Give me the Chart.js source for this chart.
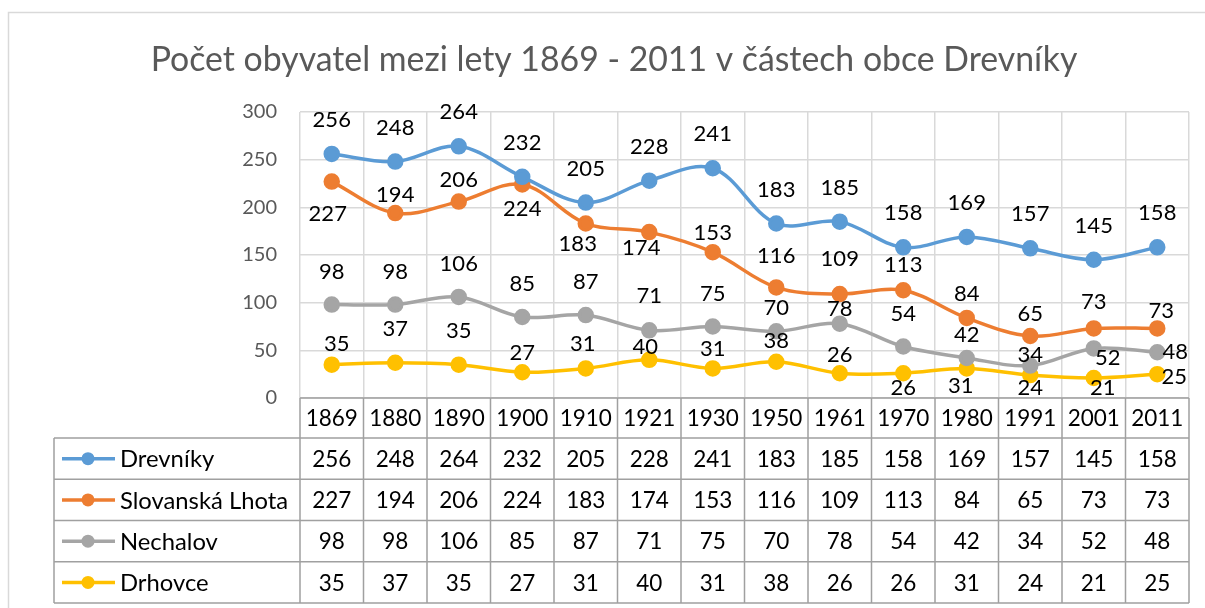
<!DOCTYPE html>
<html>
<head>
<meta charset="utf-8">
<script src="https://cdn.jsdelivr.net/npm/chart.js@4/dist/chart.umd.min.js"></script>
<style>
    html, body { margin: 0; padding: 0; background: #fff; }
</style>
</head>
<body>
<canvas id="populationChart" width="1205" height="608"></canvas>
<script>
// data
var years = ['1869', '1880', '1890', '1900', '1910', '1921', '1930', '1950', '1961', '1970', '1980', '1991', '2001', '2011'];
var seriesNames = ['Drevníky', 'Slovanská Lhota', 'Nechalov', 'Drhovce'];
var drevniky = [256, 248, 264, 232, 205, 228, 241, 183, 185, 158, 169, 157, 145, 158];
var slovanskaLhota = [227, 194, 206, 224, 183, 174, 153, 116, 109, 113, 84, 65, 73, 73];
var nechalov = [98, 98, 106, 85, 87, 71, 75, 70, 78, 54, 42, 34, 52, 48];
var drhovce = [35, 37, 35, 27, 31, 40, 31, 38, 26, 26, 31, 24, 21, 25];
var yTicks = [0, 50, 100, 150, 200, 250, 300];
var chartTitle = 'Počet obyvatel mezi lety 1869 - 2011 v částech obce Drevníky';

// label placement (pixel offsets from the point), style only
var drevnikyLbl = [[0,-34],[0,-34],[0,-34],[0,-34],[0,-34],[0,-34],[0,-34],[0,-34],[0,-34],[0,-34],[0,-34],[0,-34],[0,-34],[0,-34]];
var slovanskaLbl = [[-4,32],[0,-18],[0,-22],[0,24],[-8,20],[-8,16],[0,-19],[0,-32],[0,-35],[0,-25],[0,-24],[0,-22],[0,-27],[4,-18]];
var nechalovLbl = [[0,-33],[0,-33],[0,-33],[0,-33],[0,-33],[0,-34],[0,-33],[0,-23],[0,-15],[0,-33],[0,-23],[0,-11],[14,9],[18,0]];
var drhovceLbl = [[5,-21],[0,-34],[0,-34],[0,-19],[-3,-25],[-4,-13],[0,-20],[0,-21],[0,-18],[0,15],[-6,17],[0,13],[9,10],[17,3]];

var colors = ['#5B9BD5', '#ED7D31', '#A5A5A5', '#FFC000'];
var FONT = 'Lato, "Open Sans", sans-serif';

function makeSet(name, values, color, lbl) {
    return {
        label: name,
        data: values,
        borderColor: color,
        backgroundColor: color,
        pointBackgroundColor: color,
        pointBorderColor: color,
        borderWidth: 3.5,
        pointRadius: 6.5,
        pointHoverRadius: 6.5,
        tension: 0.35,
        labelOffsets: lbl
    };
}

// white background and outer chart frame + title
var framePlugin = {
    id: 'frame',
    beforeDraw: function(chart) {
        var ctx = chart.ctx;
        ctx.save();
        ctx.fillStyle = '#fff';
        ctx.fillRect(0, 0, chart.width, chart.height);
        ctx.strokeStyle = '#d9d9d9';
        ctx.lineWidth = 1.5;
        ctx.strokeRect(8.5, 12.5, chart.width + 10, chart.height + 10);
        ctx.fillStyle = '#595959';
        ctx.font = '33.8px ' + FONT;
        ctx.textAlign = 'center';
        ctx.textBaseline = 'middle';
        ctx.fillText(chartTitle, 614, 60);
        ctx.restore();
    }
};

// value labels next to the points
var valueLabels = {
    id: 'valueLabels',
    afterDatasetsDraw: function(chart) {
        var ctx = chart.ctx;
        ctx.save();
        ctx.font = '22px ' + FONT;
        ctx.fillStyle = '#000';
        ctx.textAlign = 'center';
        ctx.textBaseline = 'middle';
        chart.data.datasets.forEach(function(ds, di) {
            var meta = chart.getDatasetMeta(di);
            meta.data.forEach(function(pt, i) {
                var off = ds.labelOffsets[i];
                ctx.fillText(String(ds.data[i]), pt.x + off[0], pt.y + off[1]);
            });
        });
        ctx.restore();
    }
};

// data table under the plot
var dataTable = {
    id: 'dataTable',
    afterDraw: function(chart) {
        var ctx = chart.ctx;
        var xs = chart.scales.x;
        var area = chart.chartArea;
        var colW = (area.right - area.left) / years.length;
        var top = area.bottom;
        var headH = 40;
        var rowH = 41.25;
        var tableLeft = 54;
        var bottom = top + headH + rowH * seriesNames.length;

        ctx.save();
        ctx.strokeStyle = '#a0a0a0';
        ctx.lineWidth = 1.5;
        ctx.beginPath();
        // horizontal lines
        ctx.moveTo(area.left, top);
        ctx.lineTo(area.right, top);
        for (var r = 0; r <= seriesNames.length; r++) {
            var y = top + headH + rowH * r;
            ctx.moveTo(tableLeft, y);
            ctx.lineTo(area.right, y);
        }
        // vertical lines
        for (var c = 0; c <= years.length; c++) {
            var x = area.left + colW * c;
            ctx.moveTo(x, top);
            ctx.lineTo(x, bottom);
        }
        ctx.moveTo(tableLeft, top + headH);
        ctx.lineTo(tableLeft, bottom);
        ctx.stroke();

        ctx.font = '22.5px ' + FONT;
        ctx.fillStyle = '#000';
        ctx.textBaseline = 'middle';
        ctx.textAlign = 'center';
        years.forEach(function(yr, i) {
            ctx.fillText(yr, xs.getPixelForValue(i), top + headH / 2 + 1);
        });

        chart.data.datasets.forEach(function(ds, di) {
            var cy = top + headH + rowH * di + rowH / 2 + 1;
            // legend key
            ctx.strokeStyle = ds.borderColor;
            ctx.lineWidth = 3.5;
            ctx.beginPath();
            ctx.moveTo(62, cy - 1);
            ctx.lineTo(115, cy - 1);
            ctx.stroke();
            ctx.fillStyle = ds.borderColor;
            ctx.beginPath();
            ctx.arc(88, cy - 1, 6.5, 0, Math.PI * 2);
            ctx.fill();
            ctx.fillStyle = '#000';
            ctx.textAlign = 'left';
            ctx.font = '23.8px ' + FONT;
            ctx.fillText(ds.label, 120, cy);
            ctx.textAlign = 'center';
            ctx.font = '22.5px ' + FONT;
            ds.data.forEach(function(v, i) {
                ctx.fillText(String(v), xs.getPixelForValue(i), cy);
            });
        });
        ctx.restore();
    }
};

var ctxPopulation = document.getElementById('populationChart').getContext('2d');
var populationChart = new Chart(ctxPopulation, {
    type: 'line',
    data: {
        labels: years,
        datasets: [
            makeSet(seriesNames[0], drevniky, colors[0], drevnikyLbl),
            makeSet(seriesNames[1], slovanskaLhota, colors[1], slovanskaLbl),
            makeSet(seriesNames[2], nechalov, colors[2], nechalovLbl),
            makeSet(seriesNames[3], drhovce, colors[3], drhovceLbl)
        ]
    },
    options: {
        responsive: false,
        animation: false,
        layout: {
            padding: { top: 112, right: 16, bottom: 210, left: 0 }
        },
        plugins: {
            legend: { display: false },
            title: { display: false },
            tooltip: { enabled: false }
        },
        scales: {
            x: {
                offset: true,
                grid: { offset: true, color: '#d9d9d9', lineWidth: 1.5, drawTicks: false },
                border: { display: false },
                ticks: { display: false },
                afterFit: function(scale) { scale.height = 0; }
            },
            y: {
                min: 0,
                max: 300,
                afterBuildTicks: function(scale) {
                    scale.ticks = yTicks.map(function(v) { return { value: v }; });
                },
                grid: { color: '#d9d9d9', lineWidth: 1.5, drawTicks: false },
                border: { display: false },
                ticks: {
                    color: '#595959',
                    font: { family: FONT, size: 20 },
                    padding: 23
                },
                afterFit: function(scale) { scale.width = 300; }
            }
        }
    },
    plugins: [framePlugin, valueLabels, dataTable]
});
</script>
</body>
</html>
